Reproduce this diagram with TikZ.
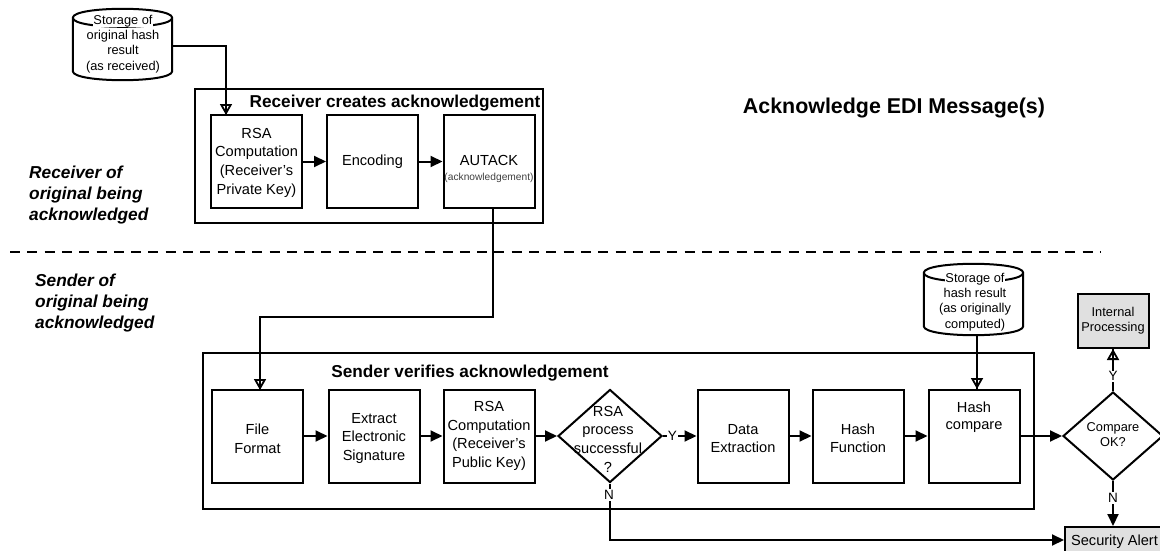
\documentclass[tikz,border=0pt]{standalone}
\usepackage{fontspec}
\setmainfont{Liberation Sans}
\usetikzlibrary{arrows.meta,shapes.geometric,calc}
\definecolor{panelgray}{HTML}{E0E0E0}
\definecolor{smallgray}{HTML}{404040}
\setlength{\fboxsep}{0pt}
\newcommand{\cylshape}[1]{%
  \draw[outline] ($(#1.north west)+(0,9)$)
    .. controls ($(#1.north west)+(0,-3)$) and ($(#1.north east)+(0,-3)$) .. ($(#1.north east)+(0,9)$)
    -- ($(#1.south east)+(0,-9)$)
    .. controls ($(#1.south east)+(0,3)$) and ($(#1.south west)+(0,3)$) .. ($(#1.south west)+(0,-9)$)
    -- cycle
    ($(#1.north west)+(0,9)$)
    .. controls ($(#1.north west)+(0,21)$) and ($(#1.north east)+(0,21)$) .. ($(#1.north east)+(0,9)$);}
\newcommand{\toprule}[1]{\rule{0pt}{#1}}
\tikzset{
  x=1pt,y=-1pt,
  outline/.style={line width=2pt,black,line join=miter},
  body/.style={font=\fontsize{14.6}{18.6}\selectfont,align=center,inner sep=0pt},
  small/.style={font=\fontsize{12.8}{15.3}\selectfont,align=center,inner sep=0pt},
  heading/.style={font=\fontsize{17.2}{20}\selectfont\bfseries,inner sep=0pt},
  side/.style={font=\fontsize{17.3}{21}\selectfont\bfseries\itshape,align=left,inner sep=0pt,anchor=west},
  bx/.style={body,outline,draw,minimum width=91pt,minimum height=93pt},
  frame/.style={outline,draw},
  decision/.style={outline,draw,shape=diamond,inner sep=0pt},
  graybox/.style={outline,draw,fill=panelgray},
  store/.style={minimum width=99pt,inner sep=0pt},
  yn/.style={font=\fontsize{13.5}{15}\selectfont,fill=white,inner sep=1pt},
  flow/.style={line width=2pt,-{Triangle[length=12pt,width=11pt]}},
  feed/.style={line width=2pt,-{Triangle[open,length=11pt,width=12pt,line width=1.8pt]}},
  plain/.style={line width=2pt},
}
\begin{document}
\begin{tikzpicture}
\useasboundingbox (0,0) rectangle (1160,551);
% frames
\node[frame,minimum width=348pt,minimum height=134pt] (recv) at (369,156) {};
\node[frame,minimum width=831pt,minimum height=156pt] (send) at (618.5,431) {};
% separator
\coordinate (dashL) at (10,252);
\coordinate (dashR) at (1100,252);
\draw[line width=2.4pt,dash pattern=on 10pt off 7.3pt] (dashL) -- (dashR);
% stores
\node[store,minimum height=71pt] (st1) at (122.5,44.5) {};
\cylshape{st1}
\node[small] (st1t) at (123,44) {\colorbox{white}{Storage of}\\original hash\\result\\(as received)};
\node[store,minimum height=71pt] (st2) at (973.5,299.5) {};
\cylshape{st2}
\node[small] (st2t) at (975,302) {\colorbox{white}{Storage of}\\hash result\hspace{10pt}\\(as originally\\computed)};
% top boxes
\node[bx] (rsa1) at (256.5,161.5) {\toprule{12.5pt}RSA\\Computation\\(Receiver's\\Private Key)};
\node[bx] (enc) at (372.5,161.5) {Encoding};
\node[bx] (aut) at (489,161.5) {};
\node[body] (autt) at (489,169) {AUTACK\\[-3pt]{\fontsize{10.2}{11}\selectfont\color{smallgray}(acknowledgement)}};
% bottom boxes
\node[bx] (file) at (257.5,436) {\toprule{16pt}File\\Format};
\node[bx] (ext) at (374,436) {\toprule{15pt}Extract\\Electronic\\Signature};
\node[bx] (rsa2) at (489,436) {RSA\\Computation\\(Receiver's\\Public Key)};
\node[decision,minimum width=104pt,minimum height=93pt] (dec1) at (610,436) {};
\node[body] (dec1t) at (608,439) {RSA\\process\\successful\\?};
\node[bx] (data) at (743,436) {\toprule{15pt}Data\\Extraction};
\node[bx] (hash) at (858,436) {\toprule{15pt}Hash\\Function};
\node[bx] (cmp) at (974,436) {};
\node[body,font=\fontsize{14.6}{17}\selectfont] (cmpt) at (974,417.5) {Hash\\compare};
\node[decision,minimum width=100pt,minimum height=88pt] (dec2) at (1113,436) {};
\node[small] (dec2t) at (1113,434.5) {Compare\\OK?};
\node[graybox,small,minimum width=71pt,minimum height=54pt] (int) at (1113,321) {Internal\\Processing};
\node[graybox,font=\fontsize{14.6}{17}\selectfont,minimum width=99pt,minimum height=29pt,inner sep=0pt] (alert) at (1114.5,541.5) {Security Alert};
% texts
\node[heading] (t1) at (395,103) {Receiver creates acknowledgement};
\node[heading] (t2) at (470,373) {Sender verifies acknowledgement};
\node[font=\fontsize{21.4}{24}\selectfont\bfseries,inner sep=0pt] (title) at (894,108) {Acknowledge EDI Message(s)};
\node[side] (side1) at (29,195) {Receiver of\\original being\\acknowledged};
\node[side] (side2) at (35,303) {Sender of\\original being\\acknowledged};
% connectors
\coordinate (c1) at (226,46);
\coordinate (c1e) at (226,115);
\draw[plain] (st1.east |- c1) -- (c1) -- (c1e);
\draw[feed] (c1) -- (c1e);
\coordinate (a1) at (492.7,208);
\coordinate (a2) at (492.7,317);
\coordinate (a3) at (260,317);
\coordinate (a4) at (260,390);
\draw[plain,line join=miter] (a1) -- (a2) -- (a3) -- (a4);
\draw[feed] (a3) -- (a4);
\coordinate (b1) at (977,335);
\coordinate (b2) at (977,389);
\draw[plain] (b1) -- (b2);
\draw[feed] (b1) -- (b2);
\draw[flow] (rsa1.east) -- (enc.west);
\draw[flow] (enc.east) -- (aut.west);
\draw[flow] (file.east) -- (ext.west);
\draw[flow] (ext.east) -- (rsa2.west);
\draw[flow] (rsa2.east) -- (dec1.west);
\draw[flow] (dec1.east) -- (data.west) node[yn,pos=0.28] (yn1) {Y};
\draw[flow] (data.east) -- (hash.west);
\draw[flow] (hash.east) -- (cmp.west);
\draw[flow] (cmp.east) -- (dec2.west);
\draw[plain] (dec2.north) -- (int.south);
\draw[feed] (dec2.north) -- (int.south) node[yn,pos=0.35] (yn2) {Y};
\draw[flow] (dec2.south) -- (alert.north -| dec2.south) node[yn,pos=0.38] (yn3) {N};
\coordinate (n1) at (610,540);
\draw[flow] (dec1.south) -- (n1) -- (alert.west |- n1);
\node[yn] (yn4) at (609,495) {N};
\end{tikzpicture}
\end{document}
